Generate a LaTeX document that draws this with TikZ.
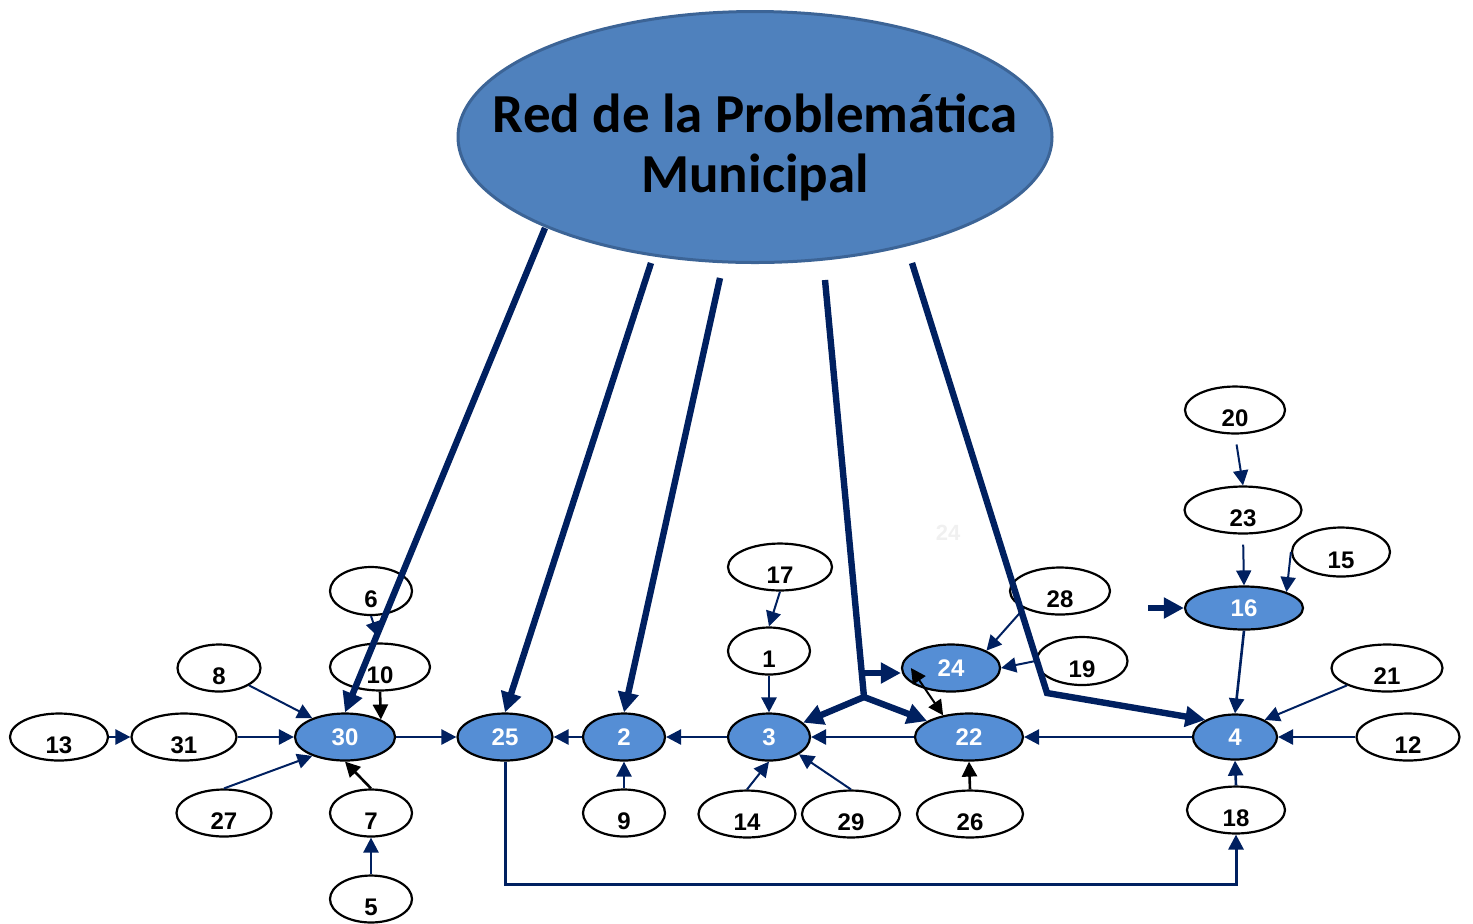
\documentclass[tikz,border=0pt]{standalone}
\usepackage{fontspec}
\setmainfont{Liberation Sans}
\newfontfamily\titlefont{Carlito}
\usetikzlibrary{shapes.geometric,arrows.meta,calc}
\definecolor{navy}{RGB}{0,32,96}
\definecolor{nodeblue}{RGB}{85,142,213}
\definecolor{titleblue}{RGB}{79,129,189}
\definecolor{titleedge}{RGB}{60,100,150}
\begin{document}
\begin{tikzpicture}[x=0.5pt,y=-0.5pt,
  sz/.style 2 args={minimum width=#1*0.5pt, minimum height=#2*0.5pt},
  base/.style={ellipse, draw=black, line width=1.1pt, inner sep=0pt, font=\fontsize{12}{14}\selectfont\bfseries},
  wn/.style={base, fill=white, text=black, text height=16.6pt, text depth=0pt},
  bn/.style={base, fill=nodeblue, text=white, text height=8.6pt, text depth=0pt},
  ar/.style={draw=navy, line width=1.3pt, -{Triangle[length=7.5pt,width=7.5pt]}},
  arb/.style={draw=black, line width=1.3pt, -{Triangle[length=7.5pt,width=7.5pt]}},
  thk/.style={draw=navy, line width=3.2pt, -{Triangle[length=10pt,width=10pt]}},
  titleell/.style={ellipse, draw=titleedge, line width=1.5pt, fill=titleblue, inner sep=0pt},
  titletext/.style={align=center, inner sep=0pt, font=\titlefont\fontsize{27.5}{30}\selectfont\bfseries}
]
\useasboundingbox (0,0) rectangle (1473,923);

% title
\node[titleell, sz={594}{251}] (n0) at (755,137) {};
\node[titletext] (n0t) at (755,147) {Red de la Problemática\\Municipal};
\node[text=black!6, font=\fontsize{11}{13}\selectfont\bfseries] (ghost) at (948,533) {24};

% blue nodes
\node[bn, sz={100}{47}] (n30) at (345,737) {30};
\node[bn, sz={95}{47}]  (n25) at (505,737) {25};
\node[bn, sz={82}{47}]  (n2)  at (624,737) {2};
\node[bn, sz={82}{47}]  (n3)  at (769,737) {3};
\node[bn, sz={108}{47}] (n22) at (969,737) {22};
\node[bn, sz={98}{47}]  (n24) at (951,668) {24};
\node[bn, sz={84}{45}]  (n4)  at (1235,737) {4};
\node[bn, sz={118}{43}] (n16) at (1244,608) {16};

% white nodes
\node[wn, sz={98}{47}]  (n13) at (59,737) {13};
\node[wn, sz={105}{47}] (n31) at (184,737) {31};
\node[wn, sz={83}{47}]  (n8)  at (219,668) {8};
\node[wn, sz={82}{48}]  (n6)  at (371,591) {6};
\node[wn, sz={100}{45}] (n10) at (380,667) {10};
\node[wn, sz={95}{47}]  (n27) at (224,813) {27};
\node[wn, sz={82}{47}]  (n7)  at (371,813) {7};
\node[wn, sz={82}{45}]  (n5)  at (371,899) {5};
\node[wn, sz={82}{47}]  (n9)  at (624,813) {9};
\node[wn, sz={104}{45}] (n17) at (780,567) {17};
\node[wn, sz={82}{47}]  (n1)  at (769,651) {1};
\node[wn, sz={97}{45}]  (n14) at (747,814) {14};
\node[wn, sz={98}{45}]  (n29) at (851,814) {29};
\node[wn, sz={106}{45}] (n26) at (970,814) {26};
\node[wn, sz={100}{47}] (n28) at (1060,591) {28};
\node[wn, sz={91}{48}]  (n19) at (1082,661) {19};
\node[wn, sz={100}{46}] (n20) at (1235,410) {20};
\node[wn, sz={117}{46}] (n23) at (1243,510) {23};
\node[wn, sz={98}{49}]  (n15) at (1341,552) {15};
\node[wn, sz={111}{47}] (n21) at (1387,668) {21};
\node[wn, sz={103}{47}] (n12) at (1408,737) {12};
\node[wn, sz={98}{46}]  (n18) at (1236,810) {18};

% free ends of the connectors from the title
\coordinate (s1) at (545,228);
\coordinate (s2) at (651,263);
\coordinate (s3) at (720,278);
\coordinate (s4) at (825,280);
\coordinate (s5) at (912,263);
\coordinate (j1) at (864,697);
\coordinate (b24) at (862,673);
\coordinate (k5) at (1047,693);
\coordinate (t16) at (1148,608);

% thin connectors
\draw[ar] (n13.east) -- (n31.west);
\draw[ar] (n31.east) -- (n30.west);
\draw[ar, line width=1pt] (n8.-30) -- (n30.150);
\draw[ar, line width=1pt] (n27.north) -- (n30.210);
\draw[ar, line width=1pt, shorten >=3pt] (n6.south) -- (n10.north);
\draw[arb] (n10.south) -- (n30.26);
\draw[arb] (n7.north) -- (n30.south);
\draw[ar] (n5.north) -- (n7.south);
\draw[ar] (n30.east) -- (n25.west);
\draw[ar] (n2.west) -- (n25.east);
\draw[ar] (n3.west) -- (n2.east);
\draw[ar] (n9.north) -- (n2.south);
\draw[ar, line width=1pt] (n17.south) -- (n1.north);
\draw[ar] (n1.south) -- (n3.north);
\draw[ar, line width=1pt] (n14.north) -- (n3.south);
\draw[ar, line width=1pt] (n29.north) -- (n3.-30);
\draw[ar] (n22.west) -- (n3.east);
\draw[arb] (n26.north) -- (n22.south);
\draw[draw=black, line width=1pt, {Triangle[length=7.5pt,width=7.5pt]}-{Triangle[length=7.5pt,width=7.5pt]}] ([xshift=5pt]n24.west) -- (n22.140);
\draw[ar, line width=1pt] (n28.south west) -- (n24.north east);
\draw[ar, line width=1pt] (n19.west) -- (n24.east);
\draw[ar] (n4.west) -- (n22.east);
\draw[ar] (n12.west) -- (n4.east);
\draw[ar, line width=1pt] (n21.south west) -- (n4.30);
\draw[ar] (n18.north) -- (n4.south);
\draw[ar] (n16.south) -- (n4.north);
\draw[ar, line width=1pt, shorten <=5pt] (n23.south) -- (n16.north);
\draw[ar, line width=1pt] (n15.west) -- (n16.north east);
\draw[ar, line width=1pt, shorten <=5pt] (n20.south) -- (n23.north);
\draw[ar, line width=1.5pt] (n25.south) -- ++(0,123) -| (n18.south);

% thick connectors from the title
\draw[thk] (s1) -- (n30.north);
\draw[thk] (s2) -- (n25.north);
\draw[thk] (s3) -- (n2.north);
\draw[thk] (s4) -- (j1) -- (n3);
\draw[thk] (j1) -- (n22);
\draw[thk] (b24) -- (b24 -| n24.west);
\draw[thk] (s5) -- (k5) -- (n4.150);
\draw[thk] (t16) -- (n16.west);
\end{tikzpicture}
\end{document}
